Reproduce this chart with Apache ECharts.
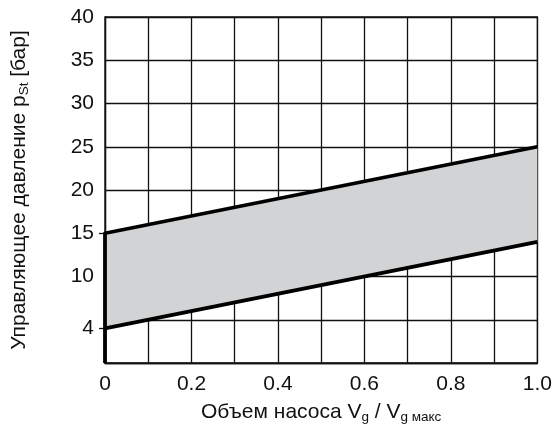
<!DOCTYPE html>
<html>
<head>
<meta charset="utf-8">
<script src="https://cdn.jsdelivr.net/npm/echarts@6/dist/echarts.min.js"></script>
<style>html,body{margin:0;padding:0;background:#fff}#c{width:555px;height:439px}</style>
</head>
<body>
<div id="c"></div>
<script>
// Data
var xVals = [0, 1.0];
var lowerVals = [4, 14];
var upperVals = [15, 25];
var startBottom = 0; // vertical line at x=0 from 0 up to upper start
var xTickLabels = ['0', '0.2', '0.4', '0.6', '0.8', '1.0'];
var xTickValues = [0, 0.2, 0.4, 0.6, 0.8, 1.0];
var yTickValues = [4, 10, 15, 20, 25, 30, 35, 40];
var yTickMarks = [4, 15];

var font = 'Liberation Sans, Arial, Helvetica, sans-serif';
var lineCol = '#111';
var chart = echarts.init(document.getElementById('c'), null, {renderer: 'canvas'});

var lowerData = xVals.map(function (x, i) { return [x, lowerVals[i]]; });
var upperData = [[xVals[0], startBottom]].concat(xVals.map(function (x, i) { return [x, upperVals[i]]; }));

var richStyle = {
  a: {fontSize: 21, fontFamily: font, color: '#111', lineHeight: 25},
  s: {fontSize: 13.5, fontFamily: font, color: '#111', lineHeight: 14, padding: [9, 0, 0, 0]}
};

chart.setOption({
  animation: false,
  grid: {left: 105, right: 17, top: 17, bottom: 76, show: true, borderColor: lineCol, borderWidth: 1.3},
  xAxis: {
    type: 'value', min: 0, max: 1, interval: 0.1,
    axisLine: {show: true, lineStyle: {color: lineCol, width: 1.3}},
    axisTick: {show: false},
    splitLine: {show: true, lineStyle: {color: lineCol, width: 1.3}},
    axisLabel: {
      customValues: xTickValues,
      margin: 11, color: '#111', fontSize: 21, fontFamily: font,
      formatter: function (v) {
        var i = xTickValues.findIndex(function (t) { return Math.abs(t - v) < 1e-6; });
        return i >= 0 ? xTickLabels[i] : '';
      }
    },
    name: '{a|Объем насоса V}{s|g}{a| / V}{s|g макс}',
    nameLocation: 'middle', nameGap: 37,
    nameTextStyle: {color: '#111', fontFamily: font, rich: richStyle}
  },
  yAxis: [
    {
      type: 'value', min: 0, max: 40, interval: 5, position: 'left',
      axisLine: {show: true, lineStyle: {color: lineCol, width: 1.3}},
      axisTick: {show: false},
      splitLine: {show: true, lineStyle: {color: lineCol, width: 1.3}},
      axisLabel: {show: false},
      name: '{a|Управляющее давление p}{s|St}{a| [бар]}',
      nameLocation: 'middle', nameGap: 73, nameRotate: 90,
      nameTextStyle: {color: '#111', fontFamily: font, rich: richStyle}
    },
    {
      type: 'value', min: 0, max: 40, interval: 5, position: 'left', offset: 0,
      axisLine: {show: false},
      axisTick: {show: true, customValues: yTickMarks, length: 6, lineStyle: {color: lineCol, width: 1.3}},
      splitLine: {show: false},
      axisLabel: {customValues: yTickValues, margin: 11, color: '#111', fontSize: 21, fontFamily: font}
    }
  ],
  series: [
    {
      type: 'custom', silent: true, z: 1, yAxisIndex: 0,
      data: [0],
      renderItem: function (params, api) {
        var pts = [];
        for (var i = 0; i < xVals.length; i++) pts.push(api.coord([xVals[i], upperVals[i]]));
        for (var j = xVals.length - 1; j >= 0; j--) pts.push(api.coord([xVals[j], lowerVals[j]]));
        return {type: 'polygon', shape: {points: pts}, style: {fill: '#d2d3d5'}};
      }
    },
    {
      type: 'line', data: upperData, symbol: 'none', clip: false, z: 5, yAxisIndex: 0,
      lineStyle: {color: '#000', width: 3.8, join: 'round', cap: 'butt'}
    },
    {
      type: 'line', data: lowerData, symbol: 'none', clip: false, z: 5, yAxisIndex: 0,
      lineStyle: {color: '#000', width: 3.8, cap: 'butt'}
    }
  ]
});
</script>
</body>
</html>
